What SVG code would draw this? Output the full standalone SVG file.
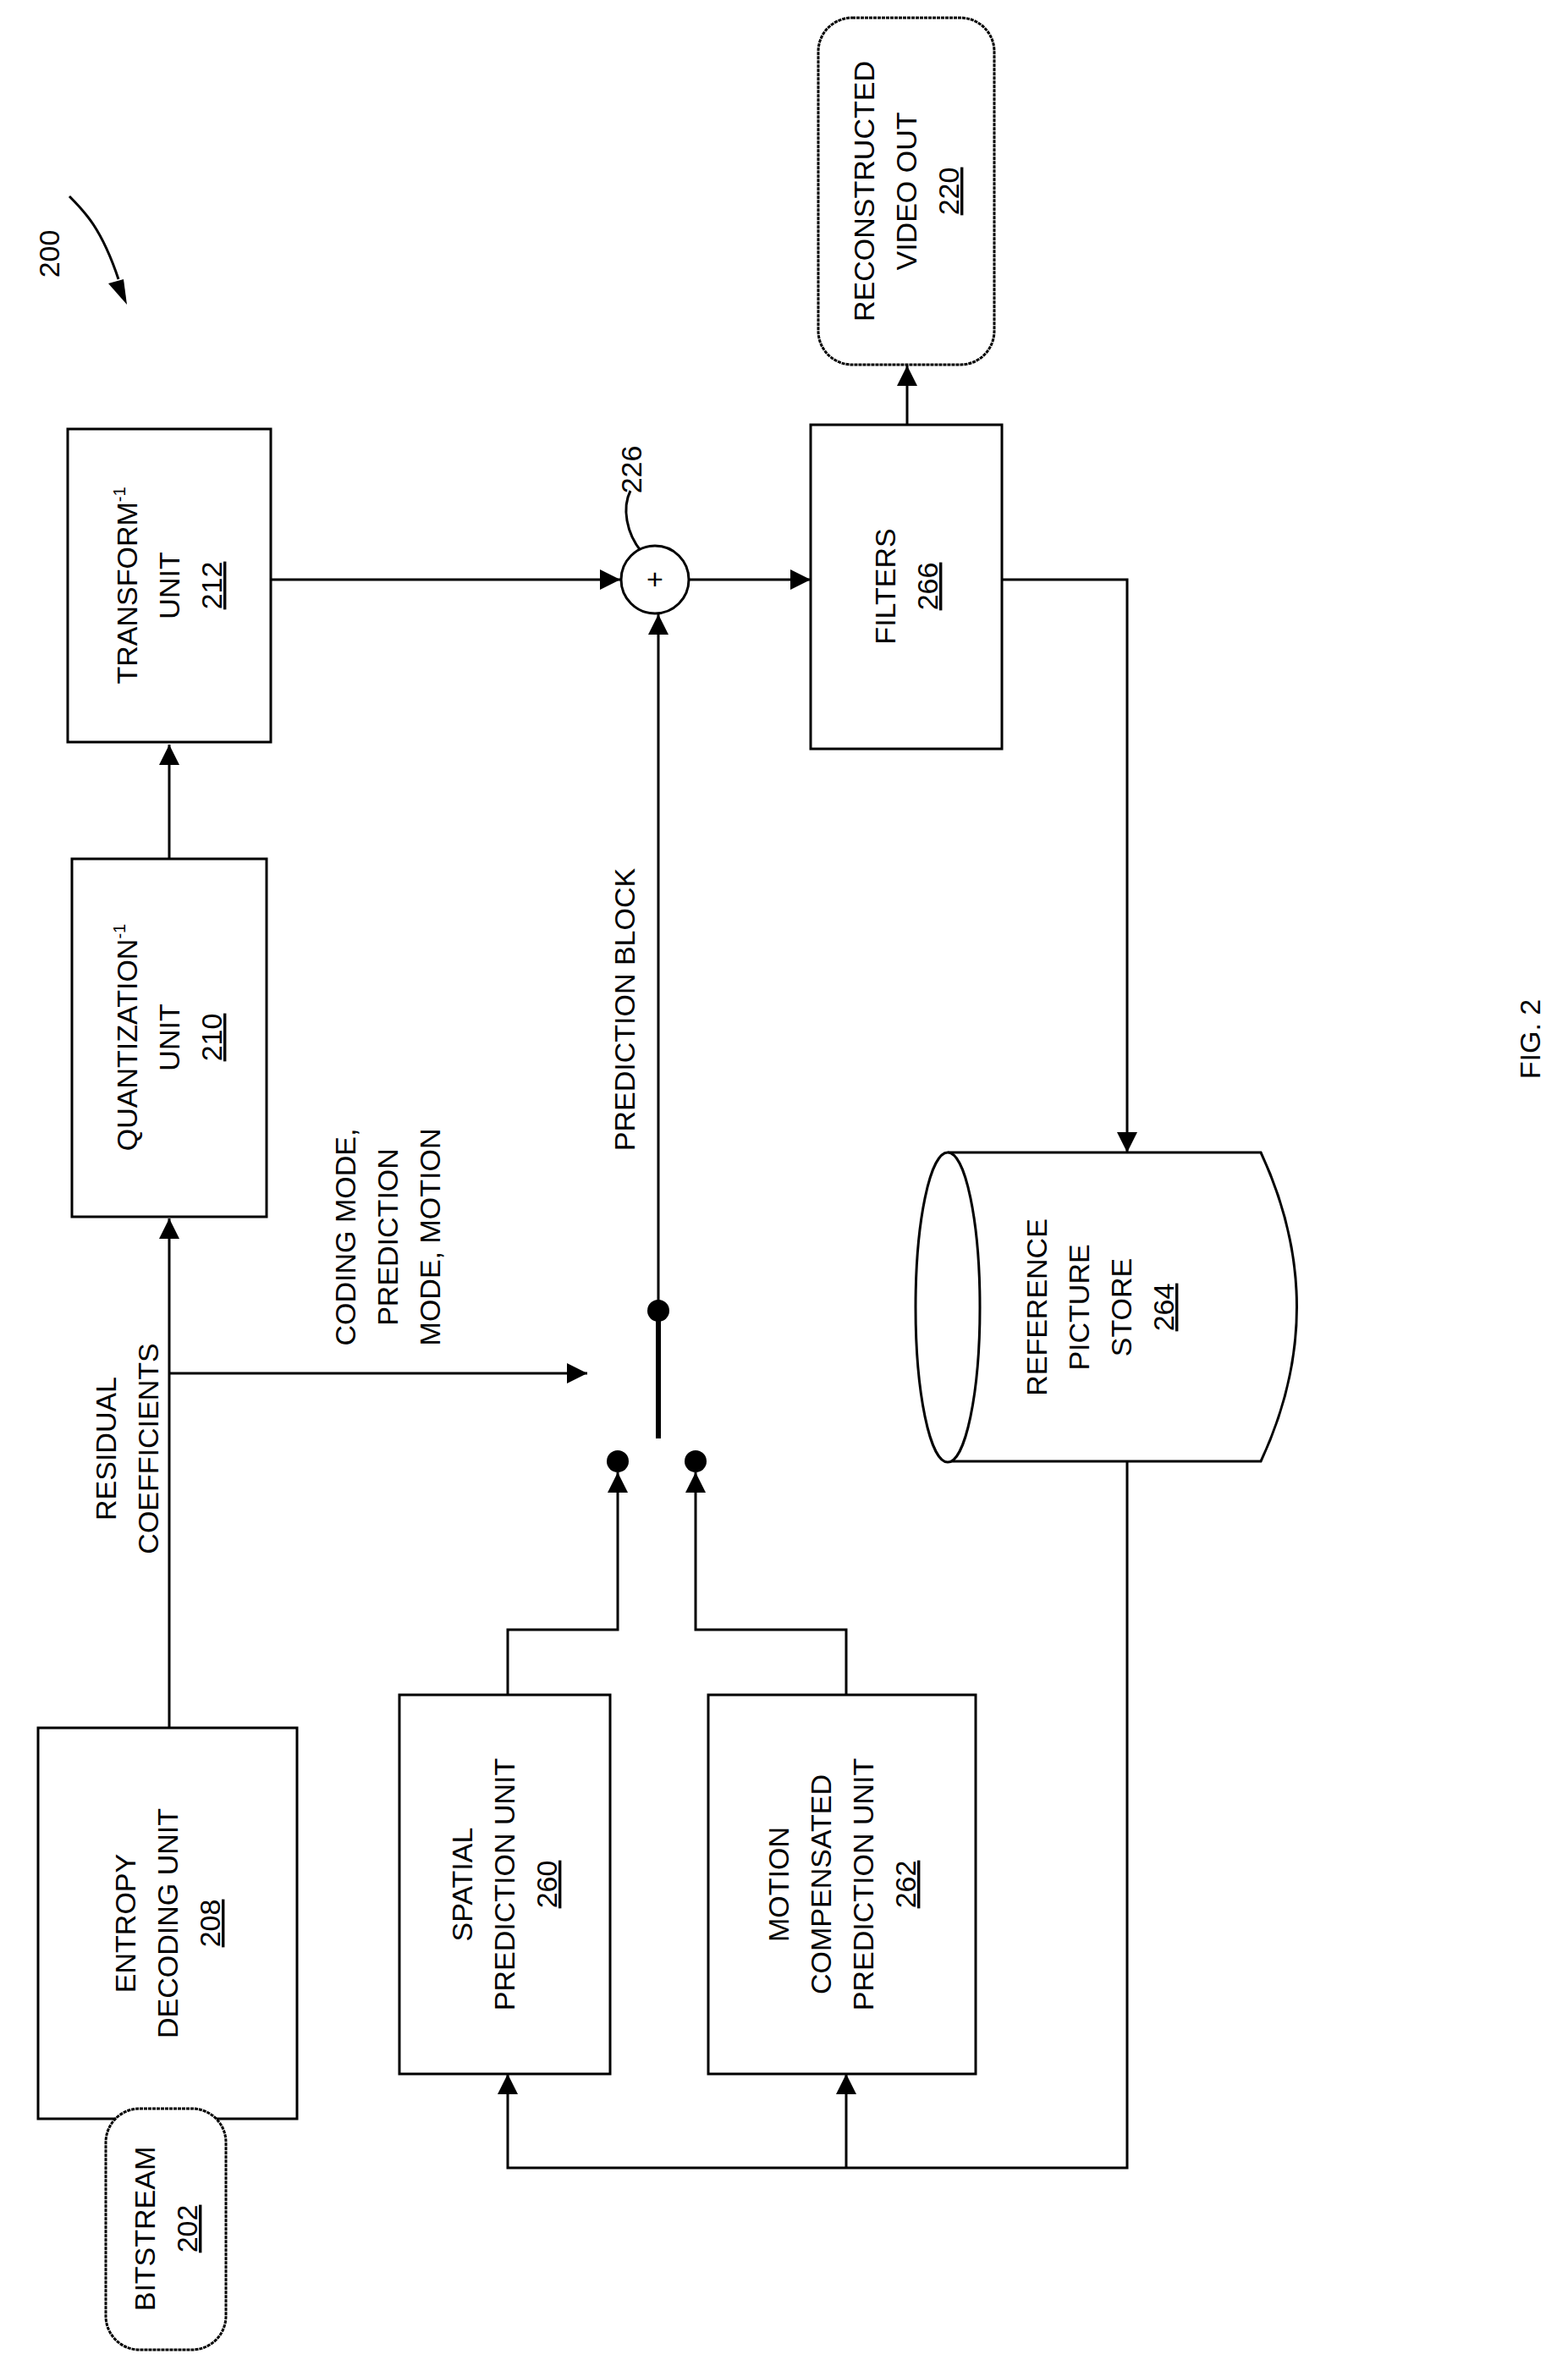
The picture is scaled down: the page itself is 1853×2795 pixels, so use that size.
<svg xmlns="http://www.w3.org/2000/svg" width="1853" height="2795" viewBox="0 0 1853 2795">
<defs>
<style>
text{font-family:"Liberation Sans",Arial,sans-serif;font-size:34px;fill:#000;text-anchor:middle}
.b{fill:#fff;stroke:#000;stroke-width:3}
.l{fill:none;stroke:#000;stroke-width:3}
.u{text-decoration:underline}
.sup{font-size:20px}
</style>
<marker id="a" viewBox="0 0 10 10" refX="10" refY="5" markerWidth="10" markerHeight="10" markerUnits="userSpaceOnUse" orient="auto"><path d="M0,0L10,5L0,10z"/></marker>
<marker id="A" viewBox="0 0 10 10" refX="10" refY="5" markerWidth="28" markerHeight="24" markerUnits="userSpaceOnUse" orient="auto"><path d="M0,0L10,5L0,10z"/></marker>
</defs>
<rect width="1853" height="2795" fill="#fff"/>
<g id="connectors">
<path class="l" d="M200,2042V1440" marker-end="url(#A)"/>
<path class="l" d="M200,1623H694" marker-end="url(#A)"/>
<path class="l" d="M200,1015V880" marker-end="url(#A)"/>
<path class="l" d="M206,2492V2506" marker-end="url(#a)"/>
<path class="l" d="M320,685H733" marker-end="url(#A)"/>
<path class="l" d="M814,685H958" marker-end="url(#A)"/>
<path class="l" d="M1072,502V432" marker-end="url(#A)"/>
<path class="l" d="M1184,685H1332V1362" marker-end="url(#A)"/>
<path class="l" d="M778,1549V726" marker-end="url(#A)" stroke-width="2"/>
<path class="l" d="M1332,1727V2562H600V2451" marker-end="url(#A)"/>
<path class="l" d="M1000,2562V2451" marker-end="url(#A)"/>
<path class="l" d="M600,2003V1926H730V1740" marker-end="url(#A)"/>
<path class="l" d="M1000,2003V1926H822V1740" marker-end="url(#A)"/>
<path d="M778,1549V1700" stroke="#000" stroke-width="6"/>
<circle cx="778" cy="1549" r="13"/>
<circle cx="730" cy="1727" r="13"/>
<circle cx="822" cy="1727" r="13"/>
<path class="l" d="M82,232 C100,250 120,270 140,330" stroke-width="2"/>
<path d="M150,360 L128,335 L146,330z"/>
<path class="l" d="M758,652 C740,630 735,600 745,580" stroke-width="2"/>
</g>
<text transform="translate(70,300) rotate(-90)">200</text>
<text transform="translate(758,555) rotate(-90)">226</text>
<g id="transform"><rect class="b" x="80" y="507" width="240" height="370"/>
<text transform="translate(200,692) rotate(-90)"><tspan x="0" y="-38">TRANSFORM<tspan class="sup" dy="-14">-1</tspan></tspan><tspan x="0" y="12">UNIT</tspan><tspan x="0" y="62" class="u">212</tspan></text></g>
<g id="quant"><rect class="b" x="85" y="1015" width="230" height="423"/>
<text transform="translate(200,1226) rotate(-90)"><tspan x="0" y="-38">QUANTIZATION<tspan class="sup" dy="-14">-1</tspan></tspan><tspan x="0" y="12">UNIT</tspan><tspan x="0" y="62" class="u">210</tspan></text></g>
<g id="entropy"><rect class="b" x="45" y="2042" width="306" height="462"/>
<text transform="translate(198,2273) rotate(-90)"><tspan x="0" y="-38">ENTROPY</tspan><tspan x="0" y="12">DECODING UNIT</tspan><tspan x="0" y="62" class="u">208</tspan></text></g>
<g id="bitstream"><rect class="b" x="125" y="2492" width="142" height="285" rx="40" stroke-dasharray="4 1"/>
<text transform="translate(196,2634) rotate(-90)"><tspan x="0" y="-13">BITSTREAM</tspan><tspan x="0" y="37" class="u">202</tspan></text></g>
<g id="spatial"><rect class="b" x="472" y="2003" width="249" height="448"/>
<text transform="translate(596,2227) rotate(-90)"><tspan x="0" y="-38">SPATIAL</tspan><tspan x="0" y="12">PREDICTION UNIT</tspan><tspan x="0" y="62" class="u">260</tspan></text></g>
<g id="motion"><rect class="b" x="837" y="2003" width="316" height="448"/>
<text transform="translate(995,2227) rotate(-90)"><tspan x="0" y="-63">MOTION</tspan><tspan x="0" y="-13">COMPENSATED</tspan><tspan x="0" y="37">PREDICTION UNIT</tspan><tspan x="0" y="87" class="u">262</tspan></text></g>
<g id="store"><path class="b" d="M1120,1362H1490Q1575,1545 1490,1727H1120"/>
<ellipse class="b" cx="1120" cy="1545" rx="38" ry="183"/>
<text transform="translate(1300,1545) rotate(-90)"><tspan x="0" y="-63">REFERENCE</tspan><tspan x="0" y="-13">PICTURE</tspan><tspan x="0" y="37">STORE</tspan><tspan x="0" y="87" class="u">264</tspan></text></g>
<g id="filters"><rect class="b" x="958" y="502" width="226" height="383"/>
<text transform="translate(1071,693) rotate(-90)"><tspan x="0" y="-13">FILTERS</tspan><tspan x="0" y="37" class="u">266</tspan></text></g>
<g id="recon"><rect class="b" x="967" y="21" width="208" height="410" rx="40" stroke-dasharray="4 1"/>
<text transform="translate(1071,226) rotate(-90)"><tspan x="0" y="-38">RECONSTRUCTED</tspan><tspan x="0" y="12">VIDEO OUT</tspan><tspan x="0" y="62" class="u">220</tspan></text></g>
<g id="sum"><circle class="b" cx="774" cy="685" r="40"/><text x="774" y="696" font-size="26">+</text></g>
<text transform="translate(150,1712) rotate(-90)"><tspan x="0" y="-13">RESIDUAL</tspan><tspan x="0" y="37">COEFFICIENTS</tspan></text>
<text transform="translate(458,1462) rotate(-90)"><tspan x="0" y="-38">CODING MODE,</tspan><tspan x="0" y="12">PREDICTION</tspan><tspan x="0" y="62">MODE, MOTION</tspan></text>
<text transform="translate(750,1193) rotate(-90)">PREDICTION BLOCK</text>
<text transform="translate(1820,1228) rotate(-90)" font-size="64">FIG. 2</text>
</svg>
